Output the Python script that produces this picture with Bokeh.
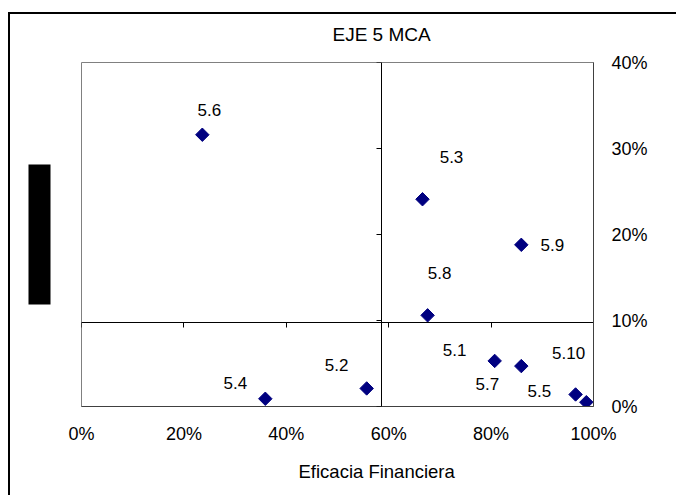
import math
from bokeh.plotting import figure
from bokeh.models import (ColumnDataSource, LinearAxis, FixedTicker, Range1d, Title,
                          LabelSet, NumeralTickFormatter, ColorBar, LinearColorMapper,
                          CustomJSTickFormatter)
from bokeh.embed import file_html
from bokeh.resources import INLINE
from bokeh.core.properties import value

# ---- data ----
codes = ["5.1", "5.2", "5.3", "5.4", "5.5", "5.6", "5.7", "5.8", "5.9", "5.10"]
eficacia = [0.807, 0.557, 0.666, 0.359, 0.986, 0.236, 0.859, 0.676, 0.859, 0.965]
eje_valor = [0.053, 0.021, 0.241, 0.009, 0.005, 0.316, 0.047, 0.106, 0.188, 0.014]
x_ticks = [0.0, 0.2, 0.4, 0.6, 0.8, 1.0]
y_ticks = [0.0, 0.1, 0.2, 0.3, 0.4]
x_cross = 0.586
y_cross = 0.098

# label offsets in screen pixels (style)
lab_dx = [-40, -30, 29, -30, -47, 7, -34, 12, 31, -7]
lab_dy = [11, 23, 42, 16, 11, 25, -18, 42, 0, 41]

FONT = "Liberation Sans"


def spacer(size, tick):
    """An invisible axis that only reserves about `size` pixels in a side panel."""
    ax = LinearAxis(ticker=FixedTicker(ticks=[tick]),
                    formatter=CustomJSTickFormatter(code="return ''"))
    ax.axis_line_color = None
    ax.major_tick_line_color = None
    ax.minor_tick_line_color = None
    ax.major_tick_out = size
    ax.major_tick_in = 0
    ax.minor_tick_out = 0
    ax.major_label_standoff = 0
    ax.major_label_text_font_size = "1px"
    ax.major_label_text_color = None
    return ax


p = figure(width=668, height=483, output_backend="svg", toolbar_location=None,
           x_range=Range1d(0, 1), y_range=Range1d(0, 0.4),
           x_axis_type=None, y_axis_type=None,
           min_border_left=71, min_border_right=85, min_border_top=48, min_border_bottom=91,
           margin=(12, 0, 0, 8),
           styles={"border-left": "2px solid black", "border-top": "2px solid black"})
p.xgrid.grid_line_color = None
p.ygrid.grid_line_color = None
p.outline_line_color = "#808080"
p.outline_line_width = 1
p.background_fill_color = "white"
p.border_fill_color = "white"
p.title.text = ""

# crossing axes (ticks only)
yc = LinearAxis(ticker=FixedTicker(ticks=y_ticks), fixed_location=x_cross)
yc.major_tick_out = 5
yc.major_tick_in = 0
yc.minor_tick_line_color = None
yc.major_label_text_color = None
yc.major_label_text_font_size = "1px"
yc.major_label_standoff = 0
yc.axis_line_color = "black"
yc.major_tick_line_color = "black"
p.add_layout(yc, "left")

xc = LinearAxis(ticker=FixedTicker(ticks=x_ticks), fixed_location=y_cross)
xc.major_tick_out = 0
xc.major_tick_in = 5
xc.minor_tick_line_color = None
xc.major_label_text_color = None
xc.major_label_text_font_size = "1px"
xc.major_label_standoff = 0
xc.axis_line_color = "black"
xc.major_tick_line_color = "black"
p.add_layout(xc, "above")

# chart title (above a small spacer)
p.add_layout(spacer(15, 0.5), "above")
p.add_layout(Title(text="EJE 5 MCA", align="left", offset=251,
                   text_font=FONT, text_font_size="19px", text_font_style="normal",
                   text_color="black", standoff=6), "above")

# label-only axes at the plot-area edges
xb = LinearAxis(ticker=FixedTicker(ticks=x_ticks), formatter=NumeralTickFormatter(format="0%"))
xb.axis_line_color = "#404040"
xb.major_tick_line_color = None
xb.minor_tick_line_color = None
xb.major_tick_out = 0
xb.major_label_standoff = 17
xb.major_label_text_font = FONT
xb.major_label_text_font_size = "18px"
xb.major_label_text_color = "black"
p.add_layout(xb, "below")
p.add_layout(spacer(5, 0.5), "below")

yr = LinearAxis(ticker=FixedTicker(ticks=y_ticks), formatter=NumeralTickFormatter(format="0%"))
yr.axis_line_color = "#404040"
yr.major_tick_line_color = None
yr.minor_tick_line_color = None
yr.major_tick_out = 0
yr.major_label_standoff = 18
yr.major_label_text_font = FONT
yr.major_label_text_font_size = "18px"
yr.major_label_text_color = "black"
p.add_layout(yr, "right")

# x axis title (placed below the tick labels)
p.add_layout(Title(text="Eficacia Financiera", align="left", offset=217,
                   text_font=FONT, text_font_size="18.5px", text_font_style="normal",
                   text_color="black", standoff=14), "below")

# blacked-out vertical axis title box
p.add_layout(spacer(31, 0.2), "left")
box = ColorBar(color_mapper=LinearColorMapper(palette=["#000000"], low=0, high=1),
               width=22, height=140, location="center", orientation="vertical",
               padding=0, margin=0, ticker=FixedTicker(ticks=[]),
               major_tick_line_color=None, minor_tick_line_color=None,
               major_label_text_font_size="1px", major_label_text_color=None,
               bar_line_color=None, border_line_color=None,
               background_fill_alpha=0)
p.add_layout(box, "left")

src = ColumnDataSource(dict(x=eficacia, y=eje_valor, code=codes, dx=lab_dx, dy=lab_dy))
p.scatter("x", "y", source=src, marker="square", size=9.5, angle=math.pi / 4,
          fill_color="#000080", line_color="#000080")

labels = LabelSet(x="x", y="y", text="code", x_offset="dx", y_offset="dy", source=src,
                  text_align="center", text_baseline="middle",
                  text_font=value(FONT), text_font_size="17px", text_color="black")
p.add_layout(labels)

open("out.html", "w").write(file_html(p, INLINE))
